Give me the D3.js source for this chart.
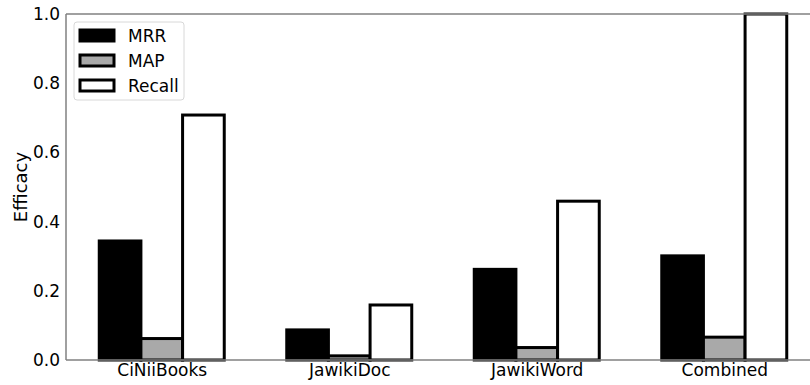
<!DOCTYPE html>
<html>
<head>
<meta charset="utf-8">
<script src="https://cdn.jsdelivr.net/npm/d3@7"></script>
<style>
  body { margin: 0; background: #fff; }
  svg { display: block; font-family: "DejaVu Sans", sans-serif; }
</style>
</head>
<body>
<svg id="chart" width="810" height="385"></svg>
<script>
// Datasets and metric series
const categories = ["CiNiiBooks", "JawikiDoc", "JawikiWord", "Combined"];
const seriesNames = ["MRR", "MAP", "Recall"];
const mrr = [0.344, 0.087, 0.262, 0.301];
const map = [0.062, 0.012, 0.036, 0.066];
const recall = [0.708, 0.159, 0.459, 1.0];
const yTicks = [0.0, 0.2, 0.4, 0.6, 0.8, 1.0];

const seriesValues = [mrr, map, recall];
const fills = ["#000000", "#a9a9a9", "#ffffff"];

const svg = d3.select("#chart");
const plotL = 66, plotT = 14, plotB = 360, plotR = 818;

const y = d3.scaleLinear().domain([0, 1]).range([plotB, plotT]);
const x0 = d3.scalePoint().domain(categories).range([68, 818]).padding(0.5);
const groupW = 125;
const x1 = d3.scaleBand().domain(seriesNames).range([-groupW / 2, groupW / 2]);

svg.append("defs").append("clipPath").attr("id", "plotclip")
  .append("rect").attr("x", plotL).attr("y", plotT - 2).attr("width", plotR - plotL).attr("height", plotB - plotT + 4);

// Bars
const gBars = svg.append("g").attr("clip-path", "url(#plotclip)");
seriesNames.forEach((s, si) => {
  gBars.selectAll(null)
    .data(categories.map((c, ci) => ({ c, v: seriesValues[si][ci] })))
    .join("rect")
    .attr("x", d => x0(d.c) + x1(s))
    .attr("y", d => y(d.v))
    .attr("width", x1.bandwidth())
    .attr("height", d => y(0) - y(d.v))
    .attr("fill", fills[si])
    .attr("stroke", "#000")
    .attr("stroke-width", 3);
});

// Spines
const spine = svg.append("g").attr("stroke", "#808080").attr("stroke-width", 1.5).attr("fill", "none");
spine.append("line").attr("x1", plotL).attr("x2", 810).attr("y1", plotT).attr("y2", plotT);
spine.append("line").attr("x1", plotL).attr("x2", 810).attr("y1", plotB).attr("y2", plotB);
spine.append("line").attr("x1", plotL).attr("x2", plotL).attr("y1", plotT).attr("y2", plotB);

// Y axis
const yAxis = d3.axisLeft(y).tickValues(yTicks).tickFormat(d3.format(".1f")).tickSize(0).tickPadding(6);
const gy = svg.append("g").attr("transform", `translate(${plotL},0)`).call(yAxis);
gy.select(".domain").remove();
gy.selectAll("text").attr("font-size", 17).attr("fill", "#000").attr("font-family", "DejaVu Sans, sans-serif");

// X axis
const xAxis = d3.axisBottom(x0).tickSize(0).tickPadding(4);
const gx = svg.append("g").attr("transform", `translate(0,${plotB})`).call(xAxis);
gx.select(".domain").remove();
gx.selectAll("text").attr("font-size", 17).attr("fill", "#000").attr("font-family", "DejaVu Sans, sans-serif");

// Y label
svg.append("text")
  .attr("transform", `translate(27,${(plotT + plotB) / 2}) rotate(-90)`)
  .attr("text-anchor", "middle")
  .attr("font-size", 18)
  .text("Efficacy");

// Legend
const lg = svg.append("g");
lg.append("rect").attr("x", 74).attr("y", 22).attr("width", 110).attr("height", 78)
  .attr("rx", 3).attr("fill", "#fff").attr("stroke", "#d8d8d8").attr("stroke-width", 1);
seriesNames.forEach((s, i) => {
  const yy = 29 + i * 25;
  lg.append("rect").attr("x", 80).attr("y", yy + 1).attr("width", 34).attr("height", 11)
    .attr("fill", fills[i]).attr("stroke", "#000").attr("stroke-width", 3);
  lg.append("text").attr("x", 128).attr("y", yy + 12.5).attr("font-size", 17).text(s);
});
</script>
</body>
</html>
